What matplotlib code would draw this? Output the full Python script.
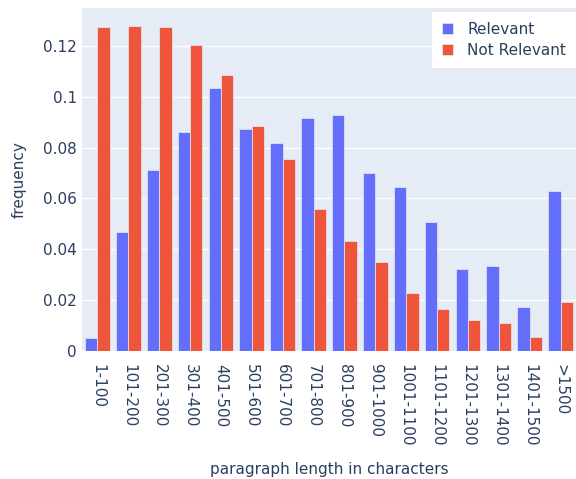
import matplotlib
matplotlib.use("Agg")
import matplotlib.pyplot as plt
import numpy as np

categories = ["1-100", "101-200", "201-300", "301-400", "401-500", "501-600",
              "601-700", "701-800", "801-900", "901-1000", "1001-1100",
              "1101-1200", "1201-1300", "1301-1400", "1401-1500", ">1500"]
relevant = [0.005, 0.0469, 0.0712, 0.0860, 0.1036, 0.0873, 0.0819, 0.0915,
            0.0927, 0.0699, 0.0644, 0.0509, 0.0321, 0.0334, 0.0172, 0.0631]
not_relevant = [0.1276, 0.1278, 0.1276, 0.1204, 0.1085, 0.0886, 0.0754, 0.0560,
                0.0433, 0.0349, 0.0227, 0.0164, 0.0121, 0.0109, 0.0056, 0.0194]
yticks = [0, 0.02, 0.04, 0.06, 0.08, 0.1, 0.12]
ytick_labels = ["0", "0.02", "0.04", "0.06", "0.08", "0.1", "0.12"]

BLUE = "#636EFA"
RED = "#EF553B"
BG = "#E5ECF6"
TXT = "#2a3f5f"

plt.rcParams['font.family'] = ['DejaVu Sans']

fig = plt.figure(figsize=(5.76, 4.79), dpi=100)
ax = fig.add_axes([82/576, 1-351/479, 1-82/576, (351-8.3)/479])
ax.set_facecolor(BG)

x = np.arange(len(categories))
w = 0.4
ax.bar(x - w/2, relevant, w, color=BLUE, edgecolor=BG, linewidth=0.5, label="Relevant", zorder=3)
ax.bar(x + w/2, not_relevant, w, color=RED, edgecolor=BG, linewidth=0.5, label="Not Relevant", zorder=3)

ax.set_xlim(-0.5, len(categories) - 0.5)
ax.set_ylim(0, 0.1348)
ax.set_yticks(yticks)
ax.set_yticklabels(ytick_labels)
ax.set_xticks(x)
ax.set_xticklabels(categories, rotation=-90, va="top", ha="center")

ax.grid(axis="y", color="white", linewidth=1, zorder=0)
ax.set_axisbelow(True)
for s in ax.spines.values():
    s.set_visible(False)
ax.tick_params(axis="both", length=0, colors=TXT, labelsize=11)
ax.tick_params(axis="x", pad=9.5)
ax.tick_params(axis="y", pad=3.6)

ax.set_xlabel("paragraph length in characters", color=TXT, fontsize=11, labelpad=11)
ax.set_ylabel("frequency", color=TXT, fontsize=11, labelpad=12)

leg = fig.legend(loc="upper right", bbox_to_anchor=(1.0, 1-11.7/479),
                 frameon=True, fancybox=False, edgecolor="white", facecolor="white",
                 framealpha=1, fontsize=11, handlelength=0.72, handleheight=0.72,
                 borderpad=0.65, labelspacing=0.42, handletextpad=0.96, borderaxespad=0)
leg.get_frame().set_linewidth(0)
for t in leg.get_texts():
    t.set_color(TXT)

fig.savefig("out.png", dpi=100)
